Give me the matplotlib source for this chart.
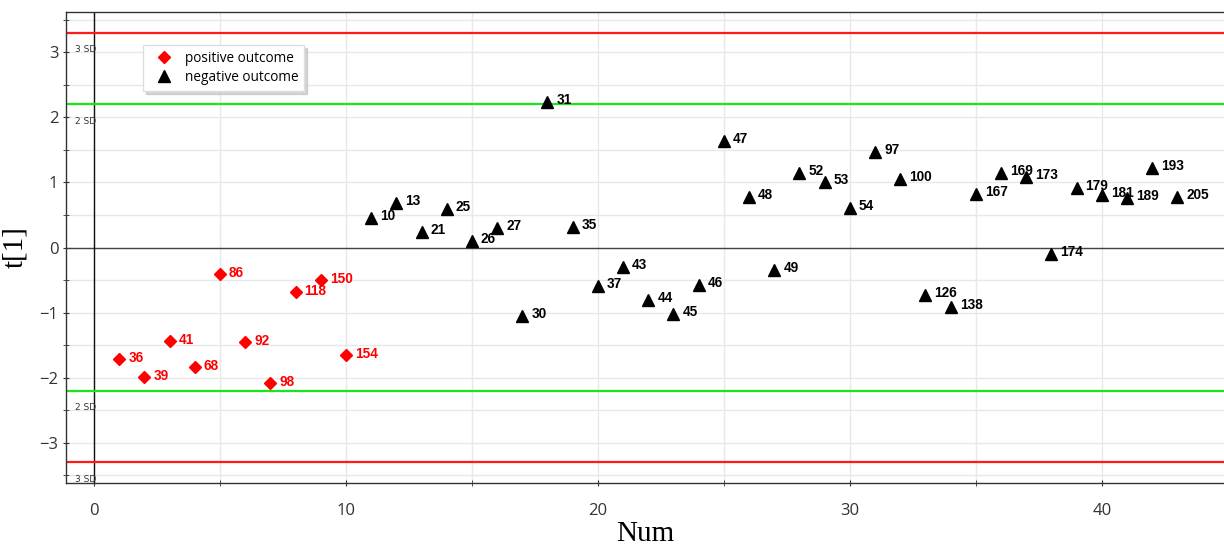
import numpy as np
import matplotlib
matplotlib.use("Agg")
import matplotlib.pyplot as plt
from matplotlib.ticker import MultipleLocator
from matplotlib.lines import Line2D

# observation ids and scores t[1], in plotting order (Num = 1..43)
pos_ids = [36, 39, 41, 68, 86, 92, 98, 118, 150, 154]
pos_t1 = [-1.72, -1.99, -1.43, -1.83, -0.41, -1.45, -2.09, -0.68, -0.50, -1.66]

neg_ids = [10, 13, 21, 25, 26, 27, 30, 31, 35, 37, 43, 44, 45, 46, 47, 48, 49,
           52, 53, 54, 97, 100, 126, 138, 167, 169, 173, 174, 179, 181, 189,
           193, 205]
neg_t1 = [0.46, 0.68, 0.24, 0.59, 0.10, 0.30, -1.06, 2.23, 0.32, -0.59, -0.30,
          -0.81, -1.02, -0.58, 1.63, 0.78, -0.34, 1.15, 1.01, 0.61, 1.47, 1.06,
          -0.73, -0.92, 0.82, 1.15, 1.09, -0.10, 0.92, 0.81, 0.76, 1.22, 0.78]

sd2 = 2.2
sd3 = 3.3

pos_num = np.arange(1, len(pos_ids) + 1)
neg_num = np.arange(len(pos_ids) + 1, len(pos_ids) + len(neg_ids) + 1)

fig = plt.figure(figsize=(12.24, 5.47), dpi=100)
ax = fig.add_axes([66 / 1224, 1 - 483 / 547, 1 - 66 / 1224, 471 / 547])

ax.set_xlim(-1.11, 44.85)
ax.set_ylim(-3.62, 3.62)

# grid
ax.xaxis.set_major_locator(MultipleLocator(10))
ax.xaxis.set_minor_locator(MultipleLocator(5))
ax.yaxis.set_major_locator(MultipleLocator(1))
ax.yaxis.set_minor_locator(MultipleLocator(0.5))
ax.set_axisbelow(True)
ax.grid(True, which="both", color="#e8e8e8", lw=1.0)
ax.axhline(0, color="#444444", lw=1.0, zorder=2)
ax.axvline(0, color="#111111", lw=1.0, zorder=2)

# control limits
for v in (sd3, -sd3):
    ax.axhline(v, color="#ff1a1a", lw=1.6, zorder=2)
for v in (sd2, -sd2):
    ax.axhline(v, color="#19e619", lw=1.6, zorder=2)
for v, txt in ((sd3, "3 SD"), (sd2, "2 SD"), (-sd2, "2 SD"), (-sd3, "3 SD")):
    ax.annotate(txt, xy=(0.008, v), xycoords=("axes fraction", "data"),
                xytext=(0, -17), textcoords="offset pixels",
                fontsize=6.5, color="#333333", va="center", ha="left",
                family="DejaVu Sans")

ax.plot(pos_num, pos_t1, "D", color="#ff0000", ms=6.3, ls="none", zorder=4)
ax.plot(neg_num, neg_t1, "^", color="black", ms=8, ls="none", zorder=4)

for x, y, i in zip(pos_num, pos_t1, pos_ids):
    ax.annotate(str(i), (x, y), xytext=(9, 1), textcoords="offset pixels",
                va="center", ha="left", fontsize=9.8, fontweight="bold",
                color="#ff0000", family="Liberation Sans", zorder=5)
for x, y, i in zip(neg_num, neg_t1, neg_ids):
    ax.annotate(str(i), (x, y), xytext=(9, 2), textcoords="offset pixels",
                va="center", ha="left", fontsize=9.8, fontweight="bold",
                color="black", family="Liberation Sans", zorder=5)

# axes styling
for s in ("left", "bottom", "top"):
    ax.spines[s].set_color("#333333")
    ax.spines[s].set_linewidth(1.0)
ax.spines["right"].set_visible(False)
ax.tick_params(which="both", direction="inout", color="#333333", labelcolor="#333333",
               labelsize=12, top=False, right=False, length=5)
ax.tick_params(axis="x", pad=12)
ax.tick_params(axis="y", pad=3)
for lab in ax.get_xticklabels() + ax.get_yticklabels():
    lab.set_family("Open Sans")

ax.set_xlabel("Num", family="Liberation Serif", fontsize=21, labelpad=1)
ax.set_ylabel("t[1]", family="Liberation Serif", fontsize=21, labelpad=8)

handles = [
    Line2D([], [], marker="D", color="#ff0000", ls="none", ms=6),
    Line2D([], [], marker="^", color="black", ls="none", ms=8),
]
leg = ax.legend(handles, ["positive outcome", "negative outcome"],
                loc="upper left", bbox_to_anchor=(0.0665, 0.93),
                borderaxespad=0,
                prop={"family": "Open Sans", "size": 9.8},
                fancybox=False, shadow={"color": "#bbbbbb", "alpha": 0.6},
                framealpha=1, edgecolor="#dddddd", handletextpad=0.4,
                borderpad=0.45, labelspacing=0.3, handlelength=2.2)

fig.savefig("out.png", dpi=100)
